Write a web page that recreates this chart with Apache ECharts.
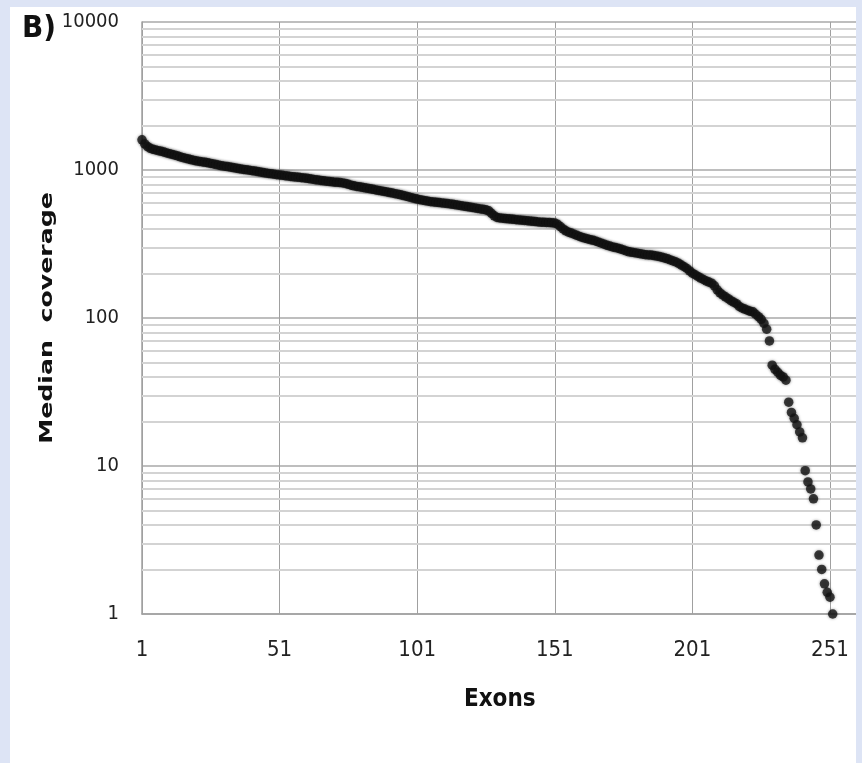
<!DOCTYPE html>
<html>
<head>
<meta charset="utf-8">
<script src="https://cdn.jsdelivr.net/npm/echarts@6/dist/echarts.min.js"></script>
<style>
html,body{margin:0;padding:0;background:#dde4f5;}
#chart{width:862px;height:763px;}
</style>
</head>
<body>
<div id="chart"></div>
<script>
// Exon numbers on the category axis (1..261, labels shown every 50)
const exonCategories = Array.from({length: 261}, (_, i) => String(i + 1));
const xTickLabels = ['1', '51', '101', '151', '201', '251'];
const yTickValues = [1, 10, 100, 1000, 10000];
const yMinorGrid = [2,3,4,5,6,7,8,9,20,30,40,50,60,70,80,90,200,300,400,500,600,700,800,900,2000,3000,4000,5000,6000,7000,8000,9000];

// Median coverage per exon, sorted descending
const medianCoverage = [
  1600, 1500, 1440, 1400, 1380, 1365, 1350, 1338, 1322, 1305,
  1290, 1275, 1260, 1245, 1226, 1212, 1198, 1186, 1172, 1160,
  1150, 1142, 1133, 1126, 1118, 1108, 1098, 1088, 1078, 1068,
  1060, 1054, 1046, 1038, 1030, 1022, 1015, 1008, 1002, 996,
  990, 983, 976, 968, 960, 954, 948, 942, 936, 930,
  925, 920, 915, 910, 905, 900, 896, 892, 888, 883,
  878, 872, 866, 860, 855, 850, 845, 840, 836, 832,
  828, 825, 822, 818, 812, 800, 790, 782, 775, 770,
  764, 758, 752, 746, 740, 734, 728, 722, 716, 710,
  704, 698, 692, 686, 680, 672, 665, 658, 650, 643,
  636, 630, 625, 620, 615, 611, 608, 605, 602, 599,
  596, 593, 590, 586, 582, 578, 574, 570, 566, 562,
  558, 554, 550, 546, 542, 538, 530, 510, 490, 478,
  474, 472, 470, 468, 466, 464, 462, 460, 458, 456,
  454, 452, 450, 448, 446, 444, 443, 442, 441, 440,
  438, 430, 415, 400, 388, 380, 375, 368, 362, 356,
  350, 346, 342, 338, 335, 330, 325, 320, 315, 310,
  306, 302, 299, 296, 292, 288, 284, 280, 278, 276,
  274, 272, 270, 268, 267, 266, 264, 262, 260, 257,
  254, 251, 247, 243, 239, 234, 228, 222, 216, 208,
  201, 196, 191, 186, 182, 178, 175, 172, 165, 155,
  148, 143, 139, 135, 131, 128, 125, 120, 117, 115,
  113, 111, 110, 106, 102, 98, 92, 84, 70, 48,
  45, 43, 41, 40, 38, 27, 23, 21, 19, 17,
  15.5, 9.3, 7.8, 7, 6, 4, 2.5, 2, 1.6, 1.4, 1.3, 1
];

const LAV = '#dde4f5';
const NARROW = '"Liberation Sans Narrow", "Arial Narrow", "DejaVu Sans Condensed", "Liberation Sans", sans-serif';

const chart = echarts.init(document.getElementById('chart'), null, {renderer: 'canvas'});
chart.setOption({
  backgroundColor: LAV,
  animation: false,
  grid: {left: 142, top: 22, width: 715.5, height: 592, containLabel: false, outerBoundsMode: 'none'},
  graphic: [
    {type: 'rect', z: -100, silent: true, shape: {x: 10, y: 7, width: 846, height: 756}, style: {fill: '#ffffff'}},
    {type: 'rect', z: 100, silent: true, shape: {x: 856, y: 0, width: 6, height: 763}, style: {fill: LAV}},
    {type: 'text', z: 10, x: 22, y: 29, silent: true,
     style: {text: 'B)', font: 'bold 31px ' + NARROW, fill: '#111', textVerticalAlign: 'middle'}},
    {type: 'text', z: 10, x: 47, y: 318, rotation: Math.PI / 2, scaleX: 1.4, silent: true,
     style: {text: 'Median  coverage', font: 'bold 18px "DejaVu Sans", Verdana, sans-serif', fill: '#111', textAlign: 'center', textVerticalAlign: 'middle'}}
  ],
  xAxis: {
    type: 'category',
    data: exonCategories,
    boundaryGap: false,
    name: 'Exons',
    nameLocation: 'middle',
    nameGap: 74,
    nameTextStyle: {fontFamily: NARROW, fontWeight: 'bold', fontSize: 24, color: '#111'},
    axisLine: {show: true, lineStyle: {color: '#a0a0a0', width: 1.5}},
    axisTick: {show: false},
    axisLabel: {
      interval: 49, margin: 25, fontFamily: NARROW, fontSize: 22, color: '#222',
      formatter: v => (xTickLabels.indexOf(v) >= 0 ? v : '')
    },
    splitLine: {show: true, interval: 49, lineStyle: {color: '#a0a0a0', width: 1}}
  },
  yAxis: {
    type: 'log',
    logBase: 10,
    min: 1,
    max: 10000,
    axisLine: {show: true, lineStyle: {color: '#a0a0a0', width: 1.5}},
    axisTick: {show: false},
    axisLabel: {margin: 23, fontFamily: NARROW, fontSize: 20, color: '#222',
      formatter: v => (yTickValues.indexOf(Math.round(v)) >= 0 ? String(Math.round(v)) : '')},
    splitLine: {show: true, lineStyle: {color: '#a8a8a8', width: 1.5}}
  },
  series: [
    {
      type: 'line', data: [], z: 1, silent: true,
      markLine: {
        silent: true, symbol: 'none', label: {show: false},
        lineStyle: {color: '#d3d3d3', width: 2, type: 'solid'},
        data: yMinorGrid.map(v => ({yAxis: v}))
      }
    },
    {
      type: 'scatter', z: 5, name: 'Median coverage',
      symbol: 'circle', symbolSize: 9.5,
      itemStyle: {color: '#141414', shadowBlur: 3, shadowColor: 'rgba(0,0,0,0.5)'},
      data: medianCoverage.map((v, i) => [i, v])
    }
  ]
});
</script>
</body>
</html>
